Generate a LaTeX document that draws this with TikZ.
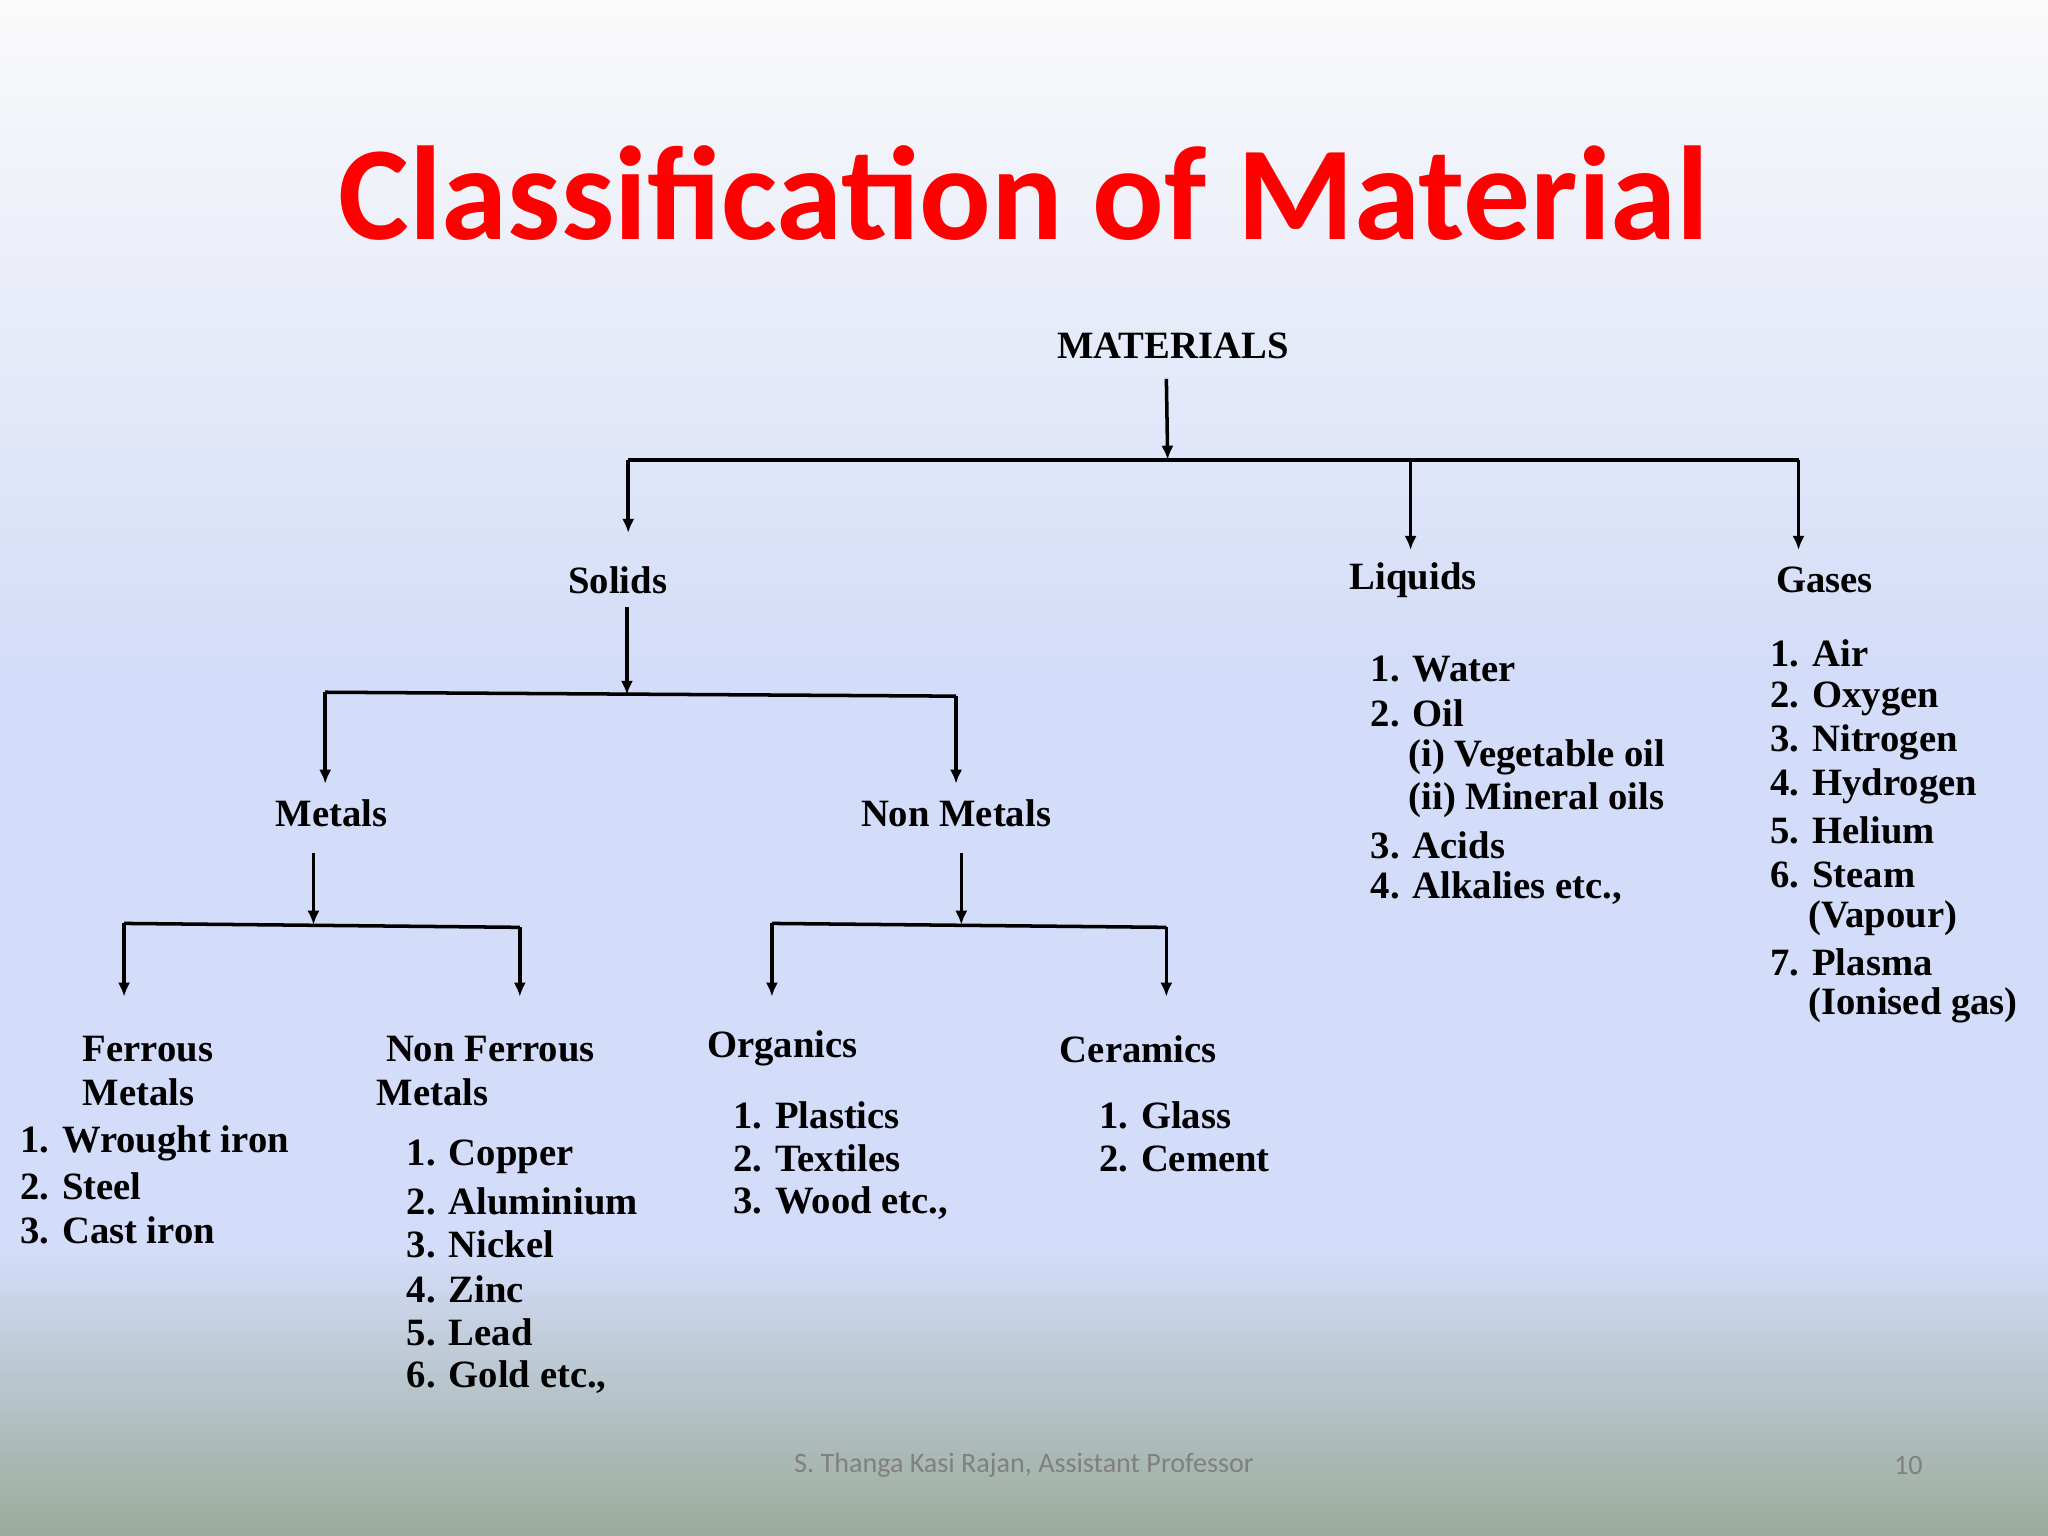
\documentclass[tikz,border=0pt]{standalone}
\usepackage{fontspec}
\setmainfont{Liberation Serif}
\newfontfamily\calib{Carlito}
\usetikzlibrary{arrows.meta}
\begin{document}
\begin{tikzpicture}[x=0.013061cm,y=-0.013061cm,
  txt/.style={font=\fontsize{11}{12.5}\selectfont\bfseries,inner sep=0pt},
  lst/.style={txt,anchor=west},
  ln/.style={line width=1pt},
  arr/.style={line width=1pt,-{Latex[length=4pt,width=3.5pt]}}]
\definecolor{bgtop}{HTML}{FAFAFA}
\definecolor{bgmid}{HTML}{D3DCF8}
\definecolor{bgbot}{HTML}{9BAB9B}
\useasboundingbox (0,0) rectangle (1568,1176);
\shade[top color=bgtop,bottom color=bgmid] (0,0) rectangle (1568,520);
\fill[bgmid] (0,519) rectangle (1568,960);
\shade[top color=bgmid,bottom color=bgbot] (0,959) rectangle (1568,1176);
\node[font=\calib\fontsize{38}{40}\selectfont\bfseries,text=red] (title) at (784,148) {Classification of Material};
\node[font=\calib\fontsize{8}{9}\selectfont,text=gray] (foot) at (784,1122) {S. Thanga Kasi Rajan, Assistant Professor};
\node[font=\calib\fontsize{8}{9}\selectfont,text=gray] (num) at (1461,1122) {10};
% main
\node[txt] (mat) at (898,265) {MATERIALS};
\coordinate (m1) at (893,290); \coordinate (m2) at (894,352);
\draw[arr] (m1) -- (m2);
\coordinate (hL) at (481,352); \coordinate (hR) at (1377,352);
\draw[ln] (hL) -- (hR);
\coordinate (lq) at (1080,352); \coordinate (lqe) at (1080,421);
\draw[arr] (hL) -- (481,408);
\draw[arr] (lq) -- (lqe);
\draw[arr] (hR) -- (1377,421);
\node[txt] (sol) at (473,444) {Solids};
\node[txt] (liq) at (1082,444) {Liquids};
\node[txt] (gas) at (1397,444) {Gases};
% solids
\draw[arr] (480,465) -- (480,532);
\coordinate (sL) at (249,530); \coordinate (sR) at (732,533);
\draw[ln] (sL) -- (sR);
\draw[arr] (sL) -- (249,600);
\draw[arr] (sR) -- (732,600);
\node[txt] (met) at (254,623) {Metals};
\node[txt] (nmet) at (732,623) {Non Metals};
% metals
\draw[arr] (240,653) -- (240,708);
\draw[ln] (95,707) -- (398,710);
\draw[arr] (95,707) -- (95,763);
\draw[arr] (398,710) -- (398,763);
\draw[arr] (736,653) -- (736,708);
\draw[ln] (591,707) -- (893,710);
\draw[arr] (591,707) -- (591,763);
\draw[arr] (893,710) -- (893,763);
% ferrous
\node[lst] (f1) at (63,803) {Ferrous};
\node[lst] (f2) at (63,836) {Metals};
\node[lst] at (15,875) {1. Wrought iron};
\node[lst] at (15,908) {2. Steel};
\node[lst] at (15,942) {3. Cast iron};
\node[lst] (nf1) at (295,803) {Non Ferrous};
\node[lst] (nf2) at (288,836) {Metals};
\node[lst] at (311,886) {1. Copper};
\node[lst] at (311,920) {2. Aluminium};
\node[lst] at (311,953) {3. Nickel};
\node[lst] at (311,987) {4. Zinc};
\node[lst] at (311,1020) {5. Lead};
\node[lst] at (311,1054) {6. Gold etc.,};
\node[lst] (org) at (541,803) {Organics};
\node[lst] at (561,854) {1. Plastics};
\node[lst] at (561,887) {2. Textiles};
\node[lst] at (561,921) {3. Wood etc.,};
\node[lst] (cer) at (811,803) {Ceramics};
\node[lst] at (841,854) {1. Glass};
\node[lst] at (841,887) {2. Cement};
% liquids list
\node[lst] at (1049,512) {1. Water};
\node[lst] at (1049,546) {2. Oil};
\node[lst] at (1078,580) {(i) Vegetable oil};
\node[lst] at (1078,613) {(ii) Mineral oils};
\node[lst] at (1049,647) {3. Acids};
\node[lst] at (1049,680) {4. Alkalies etc.,};
% gases list
\node[lst] at (1355,500) {1. Air};
\node[lst] at (1355,535) {2. Oxygen};
\node[lst] at (1355,568) {3. Nitrogen};
\node[lst] at (1355,602) {4. Hydrogen};
\node[lst] at (1355,636) {5. Helium};
\node[lst] at (1355,670) {6. Steam};
\node[lst] at (1384,703) {(Vapour)};
\node[lst] at (1355,737) {7. Plasma};
\node[lst] at (1384,770) {(Ionised gas)};
\end{tikzpicture}
\end{document}
